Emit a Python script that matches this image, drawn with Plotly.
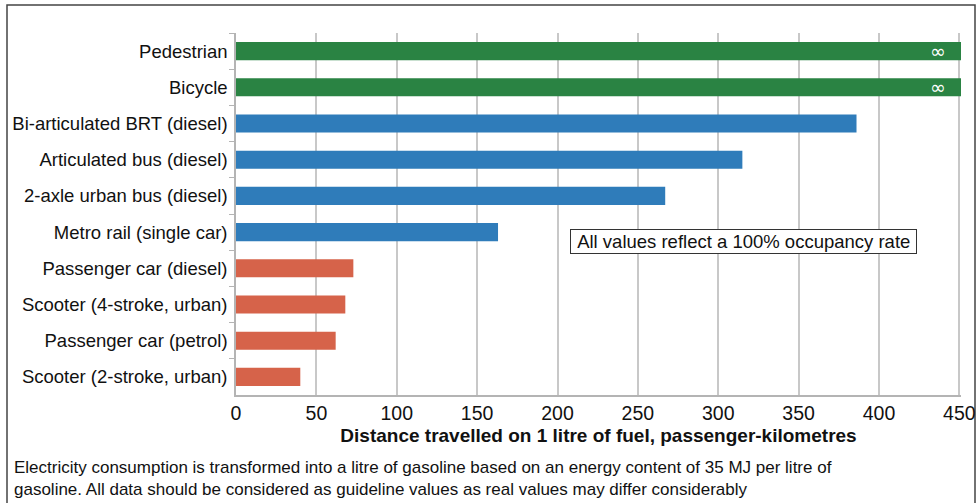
import plotly.graph_objects as go

modes = ["Pedestrian", "Bicycle", "Bi-articulated BRT (diesel)", "Articulated bus (diesel)",
         "2-axle urban bus (diesel)", "Metro rail (single car)", "Passenger car (diesel)",
         "Scooter (4-stroke, urban)", "Passenger car (petrol)", "Scooter (2-stroke, urban)"]
distance = [451, 451, 386, 315, 267, 163, 73, 68, 62, 40]
groups = ["active", "active", "public", "public", "public", "public",
          "private", "private", "private", "private"]
bar_labels = ["∞", "∞", "", "", "", "", "", "", "", ""]
x_ticks = [0, 50, 100, 150, 200, 250, 300, 350, 400, 450]

group_colors = {"active": "#2a8343", "public": "#2f7cba", "private": "#d6634a"}
colors = [group_colors[g] for g in groups]

W, H = 978, 503
L, R, T, B = 236, 17, 33, 108
pw, ph = W - L - R, H - T - B

fig = go.Figure(go.Bar(
    x=distance, y=modes, orientation="h",
    marker=dict(color=colors, line=dict(width=0)),
    width=0.5,
    text=[t + "\u00a0\u00a0" if t else "" for t in bar_labels],
    textposition="inside", insidetextanchor="end", textangle=0,
    constraintext="none",
    textfont=dict(color="white", size=19, family="DejaVu Sans"),
    cliponaxis=False,
))

font = "Liberation Sans, Arial, sans-serif"

fig.update_layout(
    width=W, height=H,
    margin=dict(l=L, r=R, t=T, b=B),
    plot_bgcolor="white", paper_bgcolor="white",
    showlegend=False,
    font=dict(family=font, color="#111111"),
    xaxis=dict(
        range=[0, 451], tickvals=x_ticks, ticktext=[str(v) for v in x_ticks],
        automargin=False,
        showgrid=True, gridcolor="#c8c8c8", gridwidth=1.5,
        showline=True, linecolor="#b4b4b4", linewidth=1.5,
        ticks="", tickfont=dict(family=font, size=19.5, color="#111111"),
        zeroline=False,
        title=dict(text="<b>Distance travelled on 1 litre of fuel, passenger-kilometres</b>",
                   font=dict(family=font, size=19, color="#111111"), standoff=6),
    ),
    yaxis=dict(
        categoryorder="array", categoryarray=modes, autorange="reversed",
        automargin=False,
        showgrid=False, showline=True, linecolor="#b4b4b4", linewidth=1.5,
        ticks="outside", ticklen=5, tickcolor="#b4b4b4", tickson="boundaries",
        tickfont=dict(family=font, size=18.5, color="#111111"),
        ticklabelstandoff=3,
    ),
    bargap=0.5,
)

fig.add_annotation(
    x=315.5, y=0.425, xref="x", yref="paper",
    text="\u00a0All values reflect a 100% occupancy rate\u00a0",
    showarrow=False, font=dict(family=font, size=18.5, color="#111111"),
    bordercolor="#333333", borderwidth=1, borderpad=1, bgcolor="white",
)

fig.add_annotation(
    x=(12 - L) / pw, y=(H - B - 456) / ph, xref="paper", yref="paper",
    xanchor="left", yanchor="top", align="left",
    text="Electricity consumption is transformed into a litre of gasoline based on an energy content of 35 MJ per litre of<br>"
         "gasoline. All data should be considered as guideline values as real values may differ considerably",
    showarrow=False, font=dict(family=font, size=17, color="#111111"),
)

# outer frame
fig.add_shape(type="rect", xref="paper", yref="paper",
              x0=(7 - L) / pw, x1=(975 - L) / pw,
              y0=(H - B - 505) / ph, y1=(H - B - 5) / ph,
              line=dict(color="#444444", width=1.5), layer="below")

fig.write_html("out.html", config={"displayModeBar": False},
               post_script="document.body.style.margin='0';document.body.style.padding='0';")
